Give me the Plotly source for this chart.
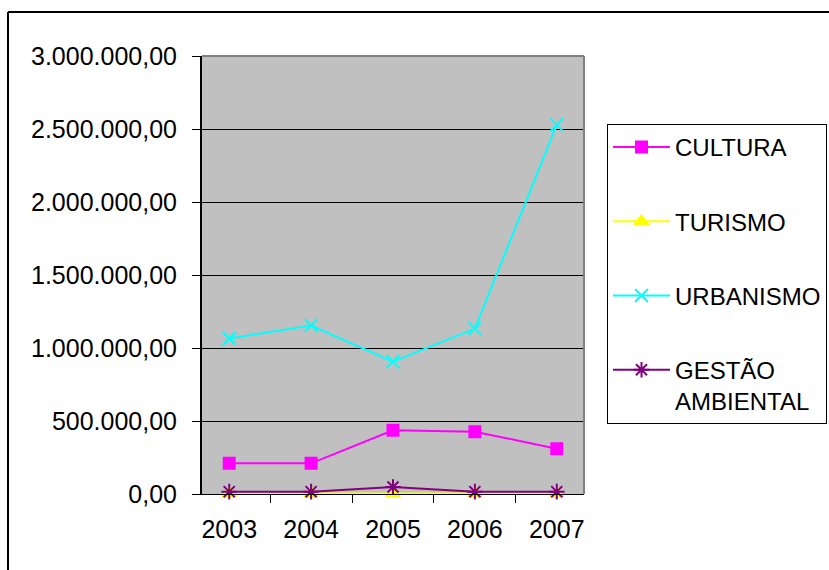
import plotly.graph_objects as go

years = ["2003", "2004", "2005", "2006", "2007"]
cultura = [210000, 210000, 436000, 427000, 310000]
turismo = [3000, 3000, 3000, 3000, 3000]
urbanismo = [1065000, 1154000, 907000, 1133000, 2528000]
gestao = [16000, 16000, 48000, 16000, 16000]
y_ticks = [0, 500000, 1000000, 1500000, 2000000, 2500000, 3000000]

FONT = "Liberation Sans, Arial, sans-serif"
FS = 24
TFS = 25

W, H = 829, 570
L, R, T, B = 202, 245, 56, 76
pw, ph = W - L - R, H - T - B

def px_x(x):
    return (x - L) / pw

def px_y(y):
    return (H - B - y) / ph

fig = go.Figure()
series = [
    ("CULTURA", cultura, "#FF00FF", "square", 11, 2),
    ("TURISMO", turismo, "#FFFF00", "triangle-up", 12, 2),
    ("URBANISMO", urbanismo, "#00FFFF", "x-thin-open", 13, 2),
    ("GESTÃO<br>AMBIENTAL", gestao, "#800080", "asterisk-open", 13, 2),
]
for i, (name, vals, col, sym, sz, lw) in enumerate(series):
    fig.add_trace(go.Scatter(
        x=years, y=vals, name=name, mode="lines+markers",
        line=dict(color=col, width=lw),
        marker=dict(symbol=sym, size=sz, color=col,
                    line=dict(color=col, width=2)),
        legendgroup=str(i),
        cliponaxis=False,
    ))

fig.update_layout(
    width=W, height=H,
    margin=dict(l=L, r=R, t=T, b=B, pad=0, autoexpand=False),
    paper_bgcolor="white",
    plot_bgcolor="#C0C0C0",
    separators=",.",
    font=dict(family=FONT, size=FS, color="black"),
    showlegend=True,
    legend=dict(
        x=607 / W, y=1 - 124 / H, xref="container", yref="container",
        xanchor="left", yanchor="top", maxheight=420,
        bordercolor="black", borderwidth=1, bgcolor="white",
        font=dict(family=FONT, size=FS, color="black"),
        tracegroupgap=40, itemwidth=57, valign="top",
    ),
    xaxis=dict(
        type="category", tickson="boundaries", ticks="outside", ticklen=8,
        tickcolor="black", showline=True, linecolor="black", linewidth=1,
        showgrid=False, ticklabelstandoff=13, zeroline=False,
        tickfont=dict(size=TFS),
    ),
    yaxis=dict(
        range=[0, 3000000], tickvals=y_ticks, tickformat=",.2f",
        ticks="outside", ticklen=8, tickcolor="black",
        showline=True, linecolor="black", linewidth=2,
        showgrid=True, gridcolor="black", gridwidth=1, zeroline=False,
        ticklabelstandoff=10, tickfont=dict(size=TFS),
    ),
    shapes=[
        dict(type="line", xref="paper", yref="paper", x0=0, x1=1, y0=1, y1=1,
             line=dict(color="#808080", width=2), layer="above"),
        dict(type="line", xref="paper", yref="paper", x0=1, x1=1, y0=0, y1=1,
             line=dict(color="#808080", width=2), layer="above"),
        dict(type="line", xref="paper", yref="paper",
             x0=px_x(8), x1=px_x(8), y0=px_y(12), y1=px_y(600),
             line=dict(color="black", width=2), layer="below"),
        dict(type="line", xref="paper", yref="paper",
             x0=px_x(8), x1=px_x(860), y0=px_y(12), y1=px_y(12),
             line=dict(color="black", width=2), layer="below"),
    ],
)

fig.write_html("out.html")
